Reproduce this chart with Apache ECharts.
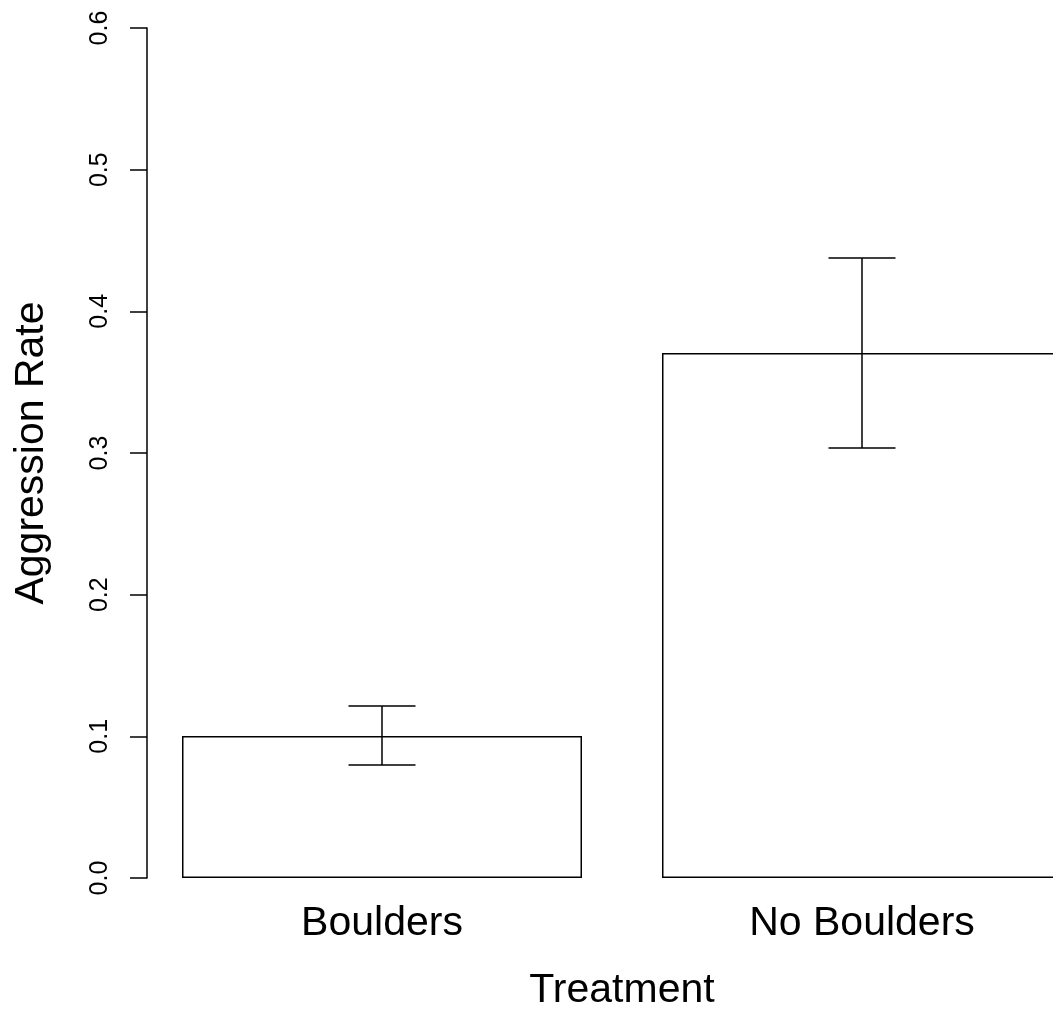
<!DOCTYPE html>
<html lang="en">
<head>
    <meta charset="UTF-8">
    <script src="https://cdn.jsdelivr.net/npm/echarts@6/dist/echarts.min.js"></script>
    <title>Aggression Rate</title>
</head>
<style>
    body{
        width: 100%;
        height: 100%;
        margin: 0;
        padding: 0;
        background: #fff;
    }
</style>
<body>
<div id="main" style="width: 1053px;height:1013px;"></div>
</body>
<script>
    // data
    var categories = ['Boulders', 'No Boulders'];
    var means = [0.1002, 0.3706];
    var upper = [0.1214, 0.4376];
    var lower = [0.0798, 0.3035];
    var yTicks = [0, 0.1, 0.2, 0.3, 0.4, 0.5, 0.6];

    // R barplot layout: width 1, space 0.2 -> centres at 0.7, 1.9
    var centres = categories.map(function (c, i) { return 0.7 + i * 1.2; });

    var font = 'Liberation Sans, Arial, Helvetica, sans-serif';

    var chart = echarts.init(document.getElementById('main'));
    var option = {
        animation: false,
        backgroundColor: '#fff',
        grid: {left: 147, right: 0, top: 28, bottom: 135, outerBoundsMode: 'none'},
        xAxis: {
            type: 'value',
            min: 0.1125,
            max: 2.3775,
            name: 'Treatment',
            nameLocation: 'middle',
            nameGap: 92,
            nameTextStyle: {fontSize: 41, color: '#000', fontFamily: font, padding: [0, 0, 0, 44]},
            axisLine: {show: false},
            axisTick: {show: false},
            splitLine: {show: false},
            axisLabel: {
                customValues: centres,
                fontSize: 41,
                color: '#000',
                fontFamily: font,
                margin: 25,
                formatter: function (v) {
                    for (var i = 0; i < centres.length; i++) {
                        if (Math.abs(centres[i] - v) < 1e-6) return categories[i];
                    }
                    return '';
                }
            }
        },
        yAxis: {
            type: 'value',
            min: 0,
            max: 0.6,
            interval: 0.1,
            name: 'Aggression Rate',
            nameLocation: 'middle',
            nameRotate: 90,
            nameGap: 95,
            nameTextStyle: {fontSize: 41, color: '#000', fontFamily: font},
            axisLine: {show: true, lineStyle: {color: '#000', width: 1.5}},
            axisTick: {show: true, inside: false, length: 17, lineStyle: {color: '#000', width: 1.5}},
            splitLine: {show: false},
            axisLabel: {
                rotate: 90,
                fontSize: 25,
                color: '#000',
                fontFamily: font,
                margin: 34,
                customValues: yTicks,
                formatter: function (v) { return v.toFixed(1); }
            }
        },
        series: [{
            type: 'bar',
            barWidth: 400,
            data: centres.map(function (x, i) { return [x, means[i]]; }),
            itemStyle: {color: '#fff', borderColor: '#000', borderWidth: 1.5},
            silent: true
        }, {
            type: 'custom',
            silent: true,
            data: centres.map(function (x, i) { return [x, lower[i], upper[i]]; }),
            renderItem: function (params, api) {
                var lo = api.coord([api.value(0), api.value(1)]);
                var hi = api.coord([api.value(0), api.value(2)]);
                var half = 33.5;
                var style = {stroke: '#000', lineWidth: 1.5};
                return {
                    type: 'group',
                    children: [
                        {type: 'line', shape: {x1: lo[0], y1: lo[1], x2: hi[0], y2: hi[1]}, style: style},
                        {type: 'line', shape: {x1: hi[0] - half, y1: hi[1], x2: hi[0] + half, y2: hi[1]}, style: style},
                        {type: 'line', shape: {x1: lo[0] - half, y1: lo[1], x2: lo[0] + half, y2: lo[1]}, style: style}
                    ]
                };
            },
            z: 5
        }]
    };
    chart.setOption(option);
</script>
</html>
